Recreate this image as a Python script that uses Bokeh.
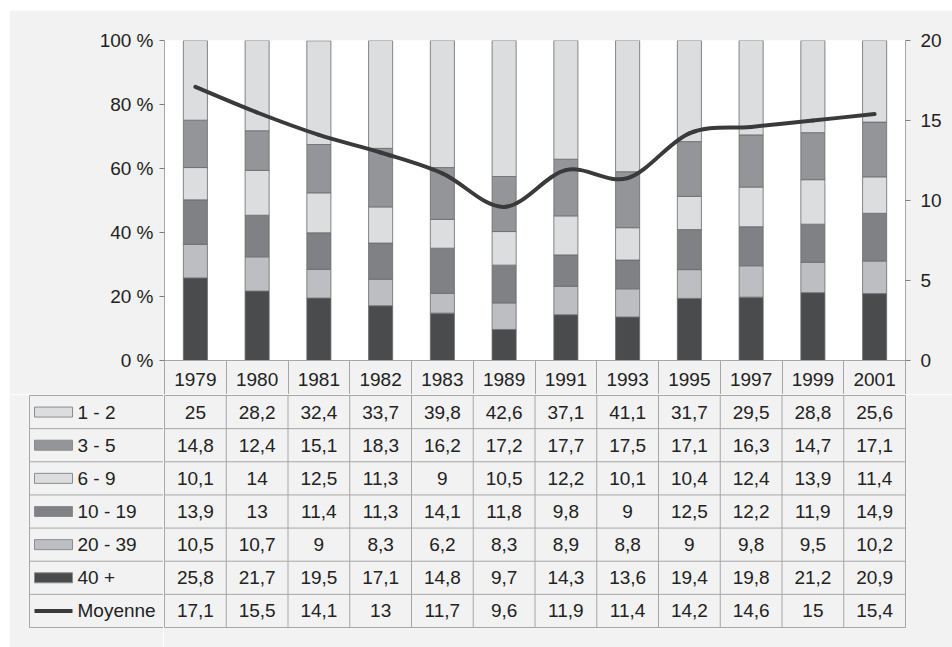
from bokeh.plotting import figure
from bokeh.models import Range1d, LinearAxis, FixedTicker, PrintfTickFormatter, ColumnDataSource
from bokeh.layouts import column, row
from bokeh.embed import file_html
from bokeh.resources import INLINE
from bokeh.core.properties import value

# ---------------- data ----------------
years = ["1979", "1980", "1981", "1982", "1983", "1989", "1991", "1993", "1995", "1997", "1999", "2001"]
s1_2 = [25, 28.2, 32.4, 33.7, 39.8, 42.6, 37.1, 41.1, 31.7, 29.5, 28.8, 25.6]
s3_5 = [14.8, 12.4, 15.1, 18.3, 16.2, 17.2, 17.7, 17.5, 17.1, 16.3, 14.7, 17.1]
s6_9 = [10.1, 14, 12.5, 11.3, 9, 10.5, 12.2, 10.1, 10.4, 12.4, 13.9, 11.4]
s10_19 = [13.9, 13, 11.4, 11.3, 14.1, 11.8, 9.8, 9, 12.5, 12.2, 11.9, 14.9]
s20_39 = [10.5, 10.7, 9, 8.3, 6.2, 8.3, 8.9, 8.8, 9, 9.8, 9.5, 10.2]
s40 = [25.8, 21.7, 19.5, 17.1, 14.8, 9.7, 14.3, 13.6, 19.4, 19.8, 21.2, 20.9]
moyenne = [17.1, 15.5, 14.1, 13, 11.7, 9.6, 11.9, 11.4, 14.2, 14.6, 15, 15.4]

series_names = ["1 - 2", "3 - 5", "6 - 9", "10 - 19", "20 - 39", "40 +"]
series_values = [s1_2, s3_5, s6_9, s10_19, s20_39, s40]
line_name = "Moyenne"
left_ticks = [0, 20, 40, 60, 80, 100]
right_ticks = [0, 5, 10, 15, 20]

# ---------------- styles ----------------
colors = ["#dcdddf", "#949598", "#dcdddf", "#808184", "#bdbec1", "#4a4b4d"]
LINE_C = "#3a3a3a"
FONT = "Liberation Sans"
FS = "19px"
TXT = "#222222"
GRID = "#a6a6a6"
BG = "#f2f2f2"

# page-pixel layout constants
OX, OY = 9, 10          # top-left of the grey panel
PW, PH = 952, 647       # page size
FL, FR = 164, 905       # plot frame left / right
FT, FB = 40, 360        # plot frame top / bottom (0 %)
HEAD_B = 394            # bottom of header (year) row
TT, TB = 395, 627       # table top / bottom lines
TL = 29                 # table left line
YEAR_TOP = 372          # top of the year labels

n = len(years)
nrows = len(series_values) + 1
ROW_H = (TB - TT) / nrows
centers = [i + 0.5 for i in range(n)]


def px2x(p):
    return (p - FL) * n / (FR - FL)


def py2row(p):
    return (p - TT) / ROW_H


def fmt(v):
    return f"{v:g}".replace(".", ",")


def base_fig(w, h, xr, yr, **kw):
    f = figure(width=w, height=h, x_range=xr, y_range=yr, output_backend="svg",
               toolbar_location=None, **kw)
    f.border_fill_color = BG
    return f


# ---------------- chart ----------------
pA = base_fig(PW - OX, HEAD_B - OY, Range1d(0, n), Range1d(0, 100),
              min_border_left=FL - OX, min_border_right=PW - FR,
              min_border_top=FT - OY, min_border_bottom=HEAD_B - FB)
pA.background_fill_color = "white"
pA.outline_line_color = None
pA.xgrid.visible = False
pA.ygrid.visible = False

keys = [f"s{i}" for i in range(len(series_values))]
data = {"x": centers}
for k, vals in zip(keys, series_values):
    data[k] = vals
src = ColumnDataSource(data)
pA.vbar_stack(list(reversed(keys)), x="x", width=0.39, source=src,
              fill_color=list(reversed(colors)), line_color="#6a6a6a", line_width=0.8)

# smoothed average line (cubic Bezier through the data points)
pA.extra_y_ranges = {"moy": Range1d(0, 20)}
bx0, by0, bx1, by1, cx0, cy0, cx1, cy1 = ([] for _ in range(8))
for i in range(n - 1):
    a = i - 1 if i > 0 else i
    d = i + 2 if i + 2 < n else i + 1
    bx0.append(centers[i]); by0.append(moyenne[i])
    bx1.append(centers[i + 1]); by1.append(moyenne[i + 1])
    cx0.append(centers[i] + (centers[i + 1] - centers[a]) / 6)
    cy0.append(moyenne[i] + (moyenne[i + 1] - moyenne[a]) / 6)
    cx1.append(centers[i + 1] - (centers[d] - centers[i]) / 6)
    cy1.append(moyenne[i + 1] - (moyenne[d] - moyenne[i]) / 6)
pA.bezier(x0=bx0, y0=by0, x1=bx1, y1=by1, cx0=cx0, cy0=cy0, cx1=cx1, cy1=cy1,
          y_range_name="moy", line_width=4, line_color=LINE_C, line_cap="round")


def style_axis(ax):
    ax.axis_line_color = GRID
    ax.major_tick_line_color = "#7f7f7f"
    ax.major_tick_in = 0
    ax.major_tick_out = 5
    ax.minor_tick_line_color = None
    ax.major_label_text_font = FONT
    ax.major_label_text_font_size = FS
    ax.major_label_text_color = TXT


ly = pA.yaxis[0]
ly.ticker = FixedTicker(ticks=left_ticks)
ly.formatter = PrintfTickFormatter(format="%d %%")
style_axis(ly)
ly.major_label_standoff = 6

ry = LinearAxis(y_range_name="moy", ticker=FixedTicker(ticks=right_ticks))
style_axis(ry)
ry.major_label_standoff = 10
pA.add_layout(ry, "right")

xa = pA.xaxis[0]
xa.ticker = FixedTicker(ticks=centers, minor_ticks=list(range(n + 1)))
xa.major_label_overrides = {c: y for c, y in zip(centers, years)}
style_axis(xa)
xa.major_tick_line_color = None
xa.major_tick_out = 0
xa.minor_tick_line_color = GRID
xa.minor_tick_in = 0
xa.minor_tick_out = HEAD_B - FB
# labels sit inside the header band drawn by the minor ticks
xa.major_label_standoff = YEAR_TOP - HEAD_B

# ---------------- data table (values) ----------------
TAB_FT, TAB_FB = TT - 1, TB + 1   # frame slightly larger than the table lines
row_range = (py2row(TAB_FB), py2row(TAB_FT))

pB = base_fig(PW - (FL - 1), PH - HEAD_B, Range1d(px2x(FL - 1), px2x(FR + 1)),
              Range1d(*row_range), x_axis_location=None, y_axis_location=None,
              min_border_left=0, min_border_right=PW - (FR + 1),
              min_border_top=TAB_FT - HEAD_B, min_border_bottom=PH - TAB_FB)
pB.background_fill_color = BG
pB.outline_line_color = None
for g in pB.grid:
    g.visible = False

pB.segment(x0=list(range(n + 1)), y0=[0] * (n + 1), x1=list(range(n + 1)), y1=[nrows] * (n + 1),
           line_color=GRID, line_width=1)
pB.segment(x0=[0] * (nrows + 1), y0=list(range(nrows + 1)),
           x1=[n] * (nrows + 1), y1=list(range(nrows + 1)), line_color=GRID, line_width=1)

for r, vals in enumerate(series_values + [moyenne]):
    pB.text(x=centers, y=[r + 0.5] * n, text=[fmt(v) for v in vals],
            text_align="center", text_baseline="middle",
            text_font=value(FONT), text_font_size=FS, text_color=TXT)

# ---------------- data table (legend column) ----------------
pC = base_fig((FL - 1) - OX, PH - HEAD_B, Range1d(TL - 1, FL - 1), Range1d(*row_range),
              x_axis_location=None, y_axis_location=None,
              min_border_left=(TL - 1) - OX, min_border_right=0,
              min_border_top=TAB_FT - HEAD_B, min_border_bottom=PH - TAB_FB)
pC.background_fill_color = BG
pC.outline_line_color = None
for g in pC.grid:
    g.visible = False

pC.segment(x0=[TL], y0=[0], x1=[TL], y1=[nrows], line_color=GRID, line_width=1)
pC.segment(x0=[TL] * (nrows + 1), y0=list(range(nrows + 1)),
           x1=[FL] * (nrows + 1), y1=list(range(nrows + 1)), line_color=GRID, line_width=1)

nser = len(series_values)
pC.rect(x=[53] * nser, y=[r + 0.5 for r in range(nser)], width=38, height=10,
        width_units="screen", height_units="screen",
        fill_color=colors, line_color="#8c8c8c", line_width=1)
pC.segment(x0=[34], y0=[nser + 0.5], x1=[72], y1=[nser + 0.5],
           line_color=LINE_C, line_width=4)
pC.text(x=[77] * nrows, y=[r + 0.5 for r in range(nrows)],
        text=series_names + [line_name], text_align="left", text_baseline="middle",
        text_font=value(FONT), text_font_size=FS, text_color=TXT)

layout = column(pA, row(pC, pB, spacing=0), spacing=0, margin=(OY, 0, 0, OX))
open("out.html", "w").write(file_html(layout, INLINE))
